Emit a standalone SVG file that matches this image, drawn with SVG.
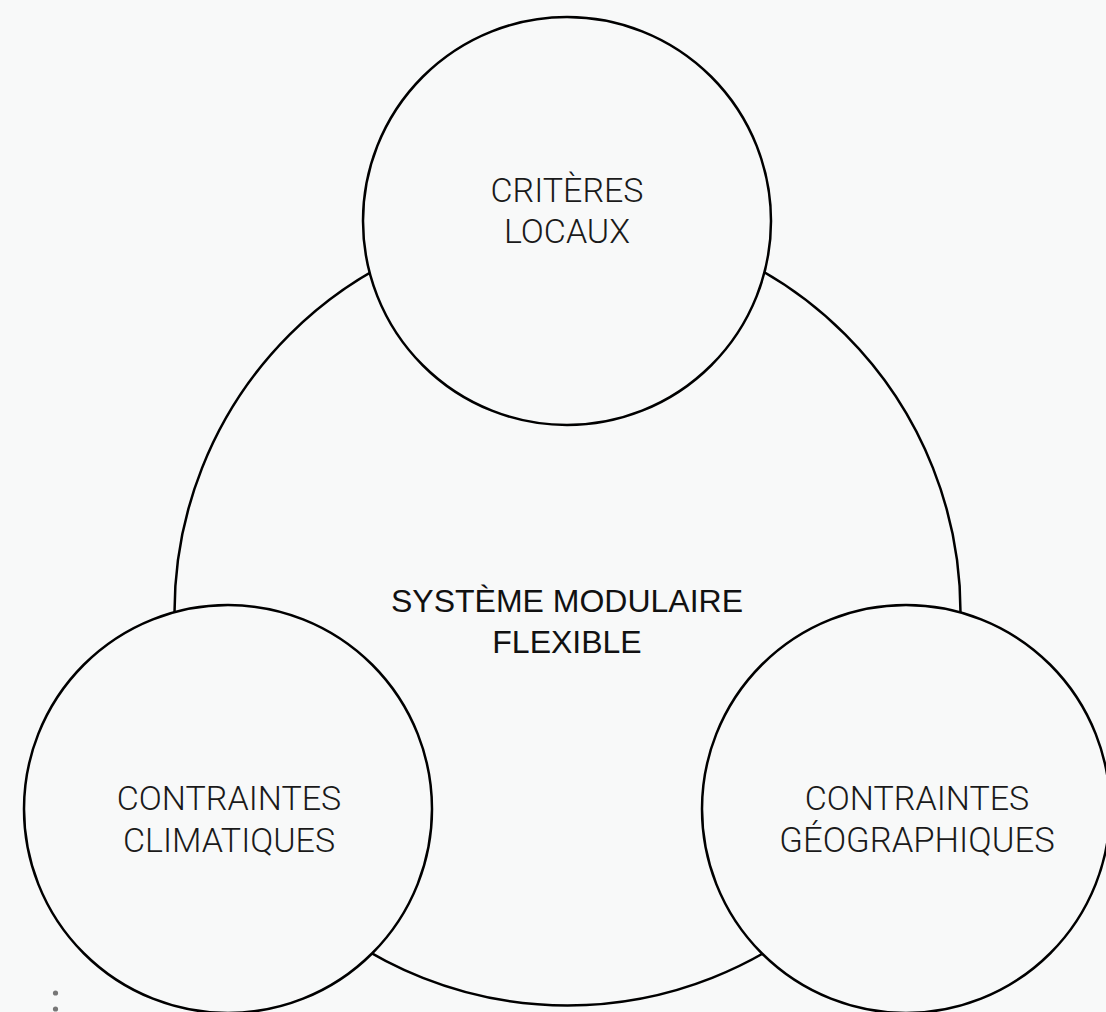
<svg xmlns="http://www.w3.org/2000/svg" width="1106" height="1012" viewBox="0 0 1106 1012">
<style>
.c{fill:#f8f9f9;stroke:#000;stroke-width:2.5}
.s{font-family:Roboto,"Liberation Sans",sans-serif;font-weight:300;font-size:34px;fill:#1a1a1a;text-anchor:middle}
.m{font-family:"Liberation Sans",Arial,sans-serif;font-size:32px;fill:#111;text-anchor:middle}
.d{fill:#777}
</style>
<rect width="1106" height="1012" fill="#f8f9f9"/>
<g id="connectors"></g>
<g id="systeme">
<circle class="c" cx="567.5" cy="612.5" r="393"/>
<text class="m" x="567" y="612">SYSTÈME MODULAIRE</text>
<text class="m" x="567" y="653">FLEXIBLE</text>
</g>
<g id="criteres">
<circle class="c" cx="567" cy="221" r="204"/>
<text class="s" x="567" y="202">CRITÈRES</text>
<text class="s" x="567" y="243">LOCAUX</text>
</g>
<g id="climatiques">
<circle class="c" cx="228" cy="809" r="204"/>
<text class="s" x="229" y="810">CONTRAINTES</text>
<text class="s" x="229" y="852">CLIMATIQUES</text>
</g>
<g id="geographiques">
<circle class="c" cx="906" cy="809" r="204"/>
<text class="s" x="917" y="810">CONTRAINTES</text>
<text class="s" x="917" y="852" style="font-size:34.6px">GÉOGRAPHIQUES</text>
</g>
<g id="dots">
<circle class="d" cx="55.5" cy="993" r="2.6"/>
<circle class="d" cx="55.5" cy="1009" r="2.6"/>
</g>
</svg>
